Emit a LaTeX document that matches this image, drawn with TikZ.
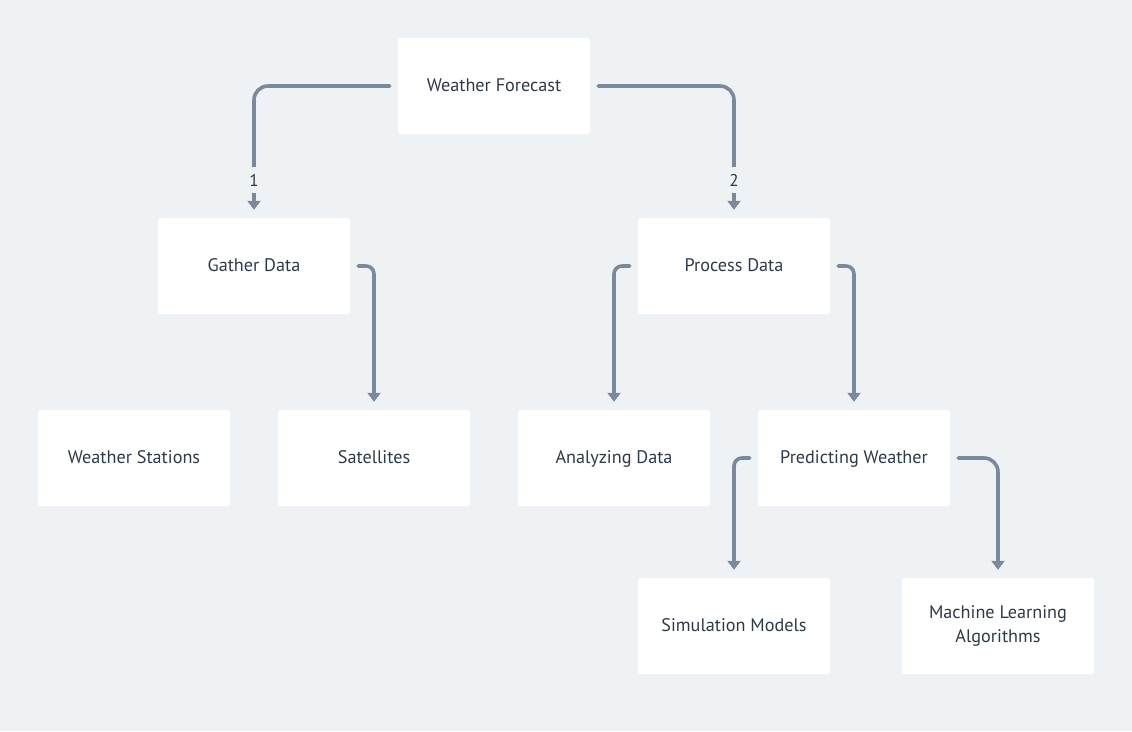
\documentclass[tikz,border=0pt]{standalone}
\usepackage{fontspec}
\setmainfont{PT Sans}
\usetikzlibrary{arrows.meta}
\definecolor{bg}{HTML}{EFF2F5}
\definecolor{edgec}{HTML}{7A8A9A}
\definecolor{txt}{HTML}{2E3A48}
\newcommand\boxstrut{\rule[-4.5pt]{0pt}{19pt}}
\begin{document}
\begin{tikzpicture}[x=1pt,y=-1pt,
  box/.style={fill=white, rounded corners=3pt, minimum width=192pt, minimum height=96pt, inner sep=0pt, text=txt, font=\fontsize{18.2}{24}\selectfont, align=center, execute at begin node=\boxstrut},
  conn/.style={draw=edgec, line width=3.6pt, line cap=round, rounded corners=14pt, -{Triangle[length=9pt,width=13pt]}},
  short/.style={rounded corners=8pt},
  lbl/.style={fill=bg, inner sep=0pt, minimum height=26pt, minimum width=12pt, text=txt, font=\fontsize{17}{20}\selectfont}]
\fill[bg] (0,0) rectangle (1132,731);
\useasboundingbox (0,0) rectangle (1132,731);
\node[box] (wf) at (494,86) {Weather Forecast};
\node[box] (gd) at (254,266) {Gather Data};
\node[box] (pd) at (734,266) {Process Data};
\node[box] (ws) at (134,458) {Weather Stations};
\node[box] (sat) at (374,458) {Satellites};
\node[box] (ad) at (614,458) {Analyzing Data};
\node[box] (pw) at (854,458) {Predicting Weather};
\node[box] (sm) at (734,626) {Simulation Models};
\node[box] (ml) at (998,626) {Machine Learning\\Algorithms};
\draw[conn] ([xshift=-8pt]wf.west) -| ([yshift=8pt]gd.north);
\draw[conn] ([xshift=8pt]wf.east) -| ([yshift=8pt]pd.north);
\node[lbl] (l1) at (254,180) {1};
\node[lbl] (l2) at (734,180) {2};
\draw[conn,short] ([xshift=8pt]gd.east) -| ([yshift=8pt]sat.north);
\draw[conn,short] ([xshift=-8pt]pd.west) -| ([yshift=8pt]ad.north);
\draw[conn,short] ([xshift=8pt]pd.east) -| ([yshift=8pt]pw.north);
\draw[conn,short] ([xshift=-8pt]pw.west) -| ([yshift=8pt]sm.north);
\draw[conn] ([xshift=8pt]pw.east) -| ([yshift=8pt]ml.north);
\end{tikzpicture}
\end{document}
